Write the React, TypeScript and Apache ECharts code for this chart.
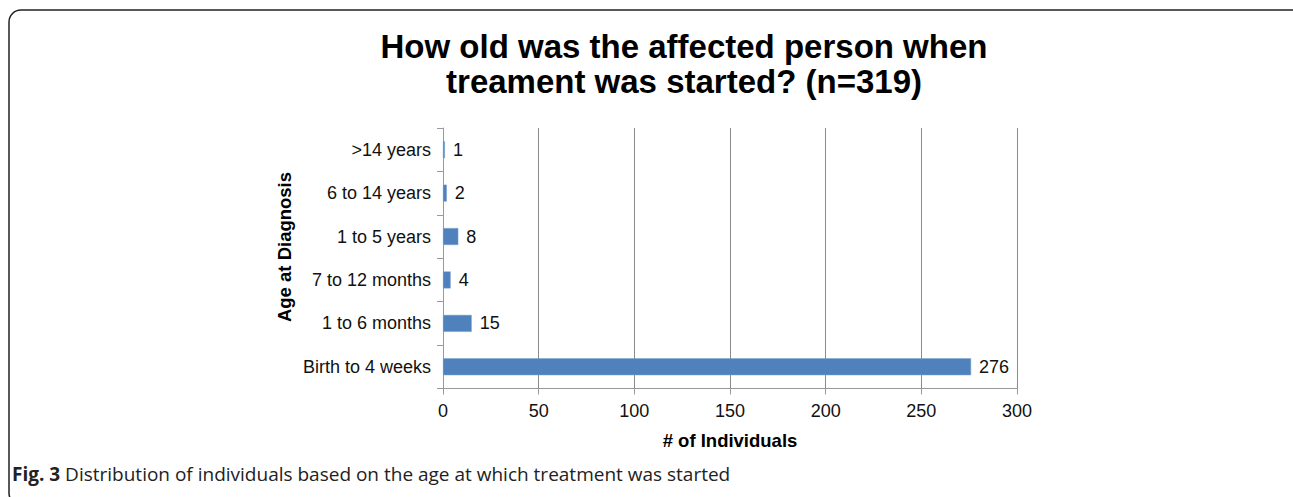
import React, { useEffect, useRef } from "react";
import * as echarts from "echarts";

const categories = [">14 years", "6 to 14 years", "1 to 5 years", "7 to 12 months", "1 to 6 months", "Birth to 4 weeks"];
const counts = [1, 2, 8, 4, 15, 276];
const titleLines = ["How old was the affected person when", "treament was started? (n=319)"];
const xName = "# of Individuals";
const yName = "Age at Diagnosis";
const captionBold = "Fig. 3";
const captionText = " Distribution of individuals based on the age at which treatment was started";

export default function App() {
  const ref = useRef<HTMLDivElement>(null);
  useEffect(() => {
    if (!ref.current) return;
    const chart = echarts.init(ref.current, null, { renderer: "svg" });
    const font = "'Liberation Sans', Arial, Helvetica, sans-serif";
    chart.setOption({
      animation: false,
      backgroundColor: "#fff",
      textStyle: { fontFamily: font },
      grid: { left: 443, right: 276, top: 128, bottom: 108.5, containLabel: false },
      xAxis: {
        type: "value",
        min: 0,
        max: 300,
        interval: 50,
        name: xName,
        nameLocation: "middle",
        nameGap: 42,
        nameTextStyle: { fontSize: 18.5, fontWeight: "bold", color: "#000", fontFamily: font },
        axisLine: { show: true, lineStyle: { color: "#999", width: 1 } },
        axisTick: { show: true, length: 6, lineStyle: { color: "#999" } },
        axisLabel: { fontSize: 18, color: "#111", margin: 13, fontFamily: font },
        splitLine: { show: true, lineStyle: { color: "#8c8c8c", width: 1 } },
      },
      yAxis: {
        type: "category",
        inverse: true,
        data: categories,
        axisLine: { show: true, lineStyle: { color: "#999", width: 1 } },
        axisTick: { show: true, length: 6, lineStyle: { color: "#999" } },
        axisLabel: { fontSize: 18, color: "#111", margin: 12, fontFamily: font },
      },
      series: [
        {
          type: "bar",
          data: counts,
          barWidth: "39%",
          itemStyle: { color: "#4F81BD", borderColor: "#7fa3d0", borderWidth: 0.5 },
          label: { show: true, position: "right", distance: 8, fontSize: 18, color: "#111", fontFamily: font },
        },
      ],
      graphic: [
        {
          type: "rect",
          shape: { x: 9, y: 10, width: 1295, height: 495, r: 12 },
          style: { fill: "none", stroke: "#222", lineWidth: 1.5 },
          silent: true,
        },
        {
          type: "text",
          x: 284,
          y: 247,
          rotation: Math.PI / 2,
          style: { text: yName, fontSize: 18.5, fontWeight: "bold", fill: "#000", textAlign: "center", textVerticalAlign: "middle", fontFamily: font },
        },
        {
          type: "text",
          x: 684,
          y: 46,
          style: { text: titleLines[0], fontSize: 33, fontWeight: "bold", fill: "#000", textAlign: "center", textVerticalAlign: "middle", fontFamily: font },
        },
        {
          type: "text",
          x: 684,
          y: 81,
          style: { text: titleLines[1], fontSize: 33, fontWeight: "bold", fill: "#000", textAlign: "center", textVerticalAlign: "middle", fontFamily: font },
        },
        {
          type: "text",
          x: 12,
          y: 474,
          style: {
            text: "{b|" + captionBold + "}{r|" + captionText + "}",
            textVerticalAlign: "middle",
            rich: {
              b: { fontSize: 19, fontWeight: "bold", fill: "#222", fontFamily: "'Open Sans', sans-serif" },
              r: { fontSize: 19, fill: "#222", fontFamily: "'Open Sans', sans-serif" },
            },
          },
        },
      ],
    });
    return () => chart.dispose();
  }, []);
  return <div ref={ref} style={{ position: "fixed", left: 0, top: 0, width: 1293, height: 497 }} />;
}
